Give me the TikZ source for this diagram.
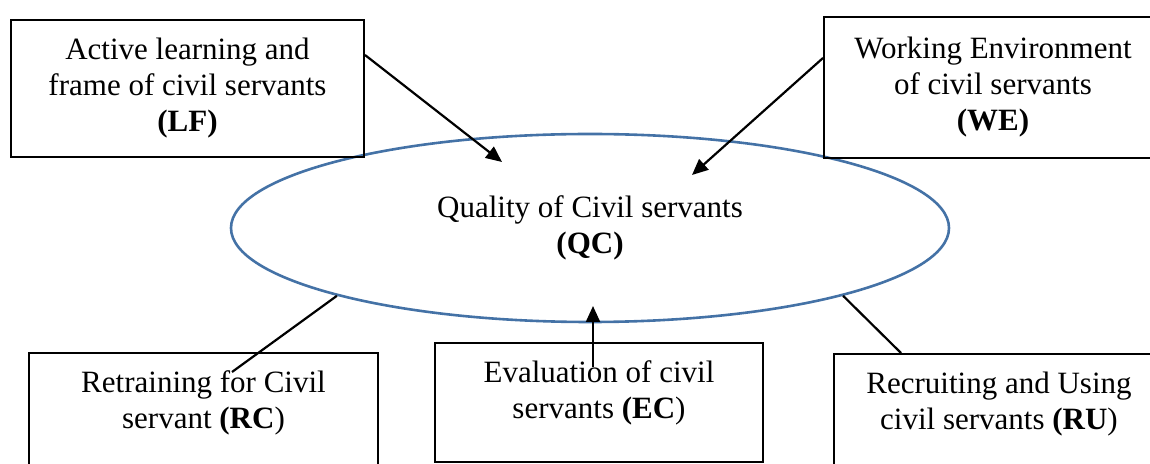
\documentclass[tikz,border=0pt]{standalone}
\usepackage{fontspec}
\setmainfont{Liberation Serif}
\usetikzlibrary{shapes.geometric,arrows.meta}
\definecolor{qcblue}{RGB}{68,114,166}
\tikzset{
  factor/.style={draw, line width=1pt, align=center, inner sep=0pt, font=\fontsize{15.5}{18}\selectfont},
  lowfactor/.style={factor, anchor=north, inner ysep=9pt, text depth=30pt},
  quality/.style={ellipse, draw=qcblue, line width=1.3pt, align=center, inner sep=0pt,
    minimum width=359pt, minimum height=94pt, font=\fontsize{15.5}{18}\selectfont},
  link/.style={line width=1.1pt, -{Triangle[length=8pt,width=7pt]}}
}

\begin{document}
\begin{tikzpicture}[x=0.5pt,y=-0.5pt]
        \useasboundingbox (0,0) rectangle (1150,464);

        % Central ellipse
        \node[quality] (QC) at (590,228) {Quality of Civil servants\\\textbf{(QC)}};

        % Factors above
        \node[factor, minimum width=176.5pt, minimum height=68.5pt] (LF) at (187.5,88.5)
            {Active learning and\\frame of civil servants\\\textbf{(LF)}};
        \node[factor, minimum width=169pt, minimum height=70.5pt] (WE) at (993,87.5)
            {Working Environment\\of civil servants\\\textbf{(WE)}};

        % Factors below
        \node[lowfactor, minimum width=174.5pt] (RC) at (203.5,352) {Retraining for Civil\\servant \textbf{(RC})};
        \node[lowfactor, minimum width=164pt, text depth=12.5pt] (EC) at (599,342) {Evaluation of civil\\servants \textbf{(EC})};
        \node[lowfactor, minimum width=165pt] (RU) at (999,353) {Recruiting and Using\\civil servants \textbf{(RU})};

        % Connectors
        \draw[link] ([shift={(0,-33.5)}]LF.east) -- ([shift={(-88,-66)}]QC.center);
        \draw[link] ([shift={(0,-29.5)}]WE.west) -- ([shift={(102,-53)}]QC.center);
        \draw[link] ([shift={(-6,25)}]EC.north) -- ([shift={(3,78)}]QC.center);
        \draw[line width=1.1pt] (QC.195) -- ([shift={(28.5,20)}]RC.north);
        \draw[line width=1.1pt] (QC.345) -- ([shift={(68,0)}]RU.north west);
    \end{tikzpicture}
\end{document}
